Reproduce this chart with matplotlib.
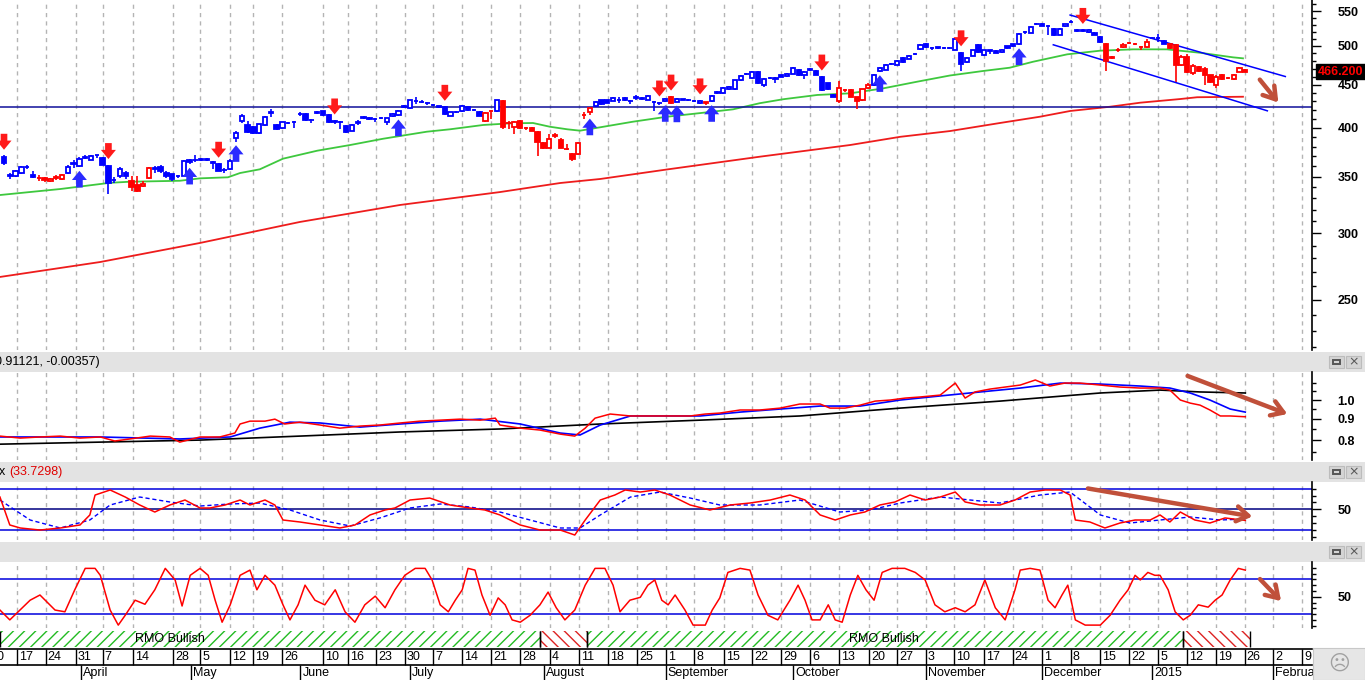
import numpy as np
import matplotlib
matplotlib.use('Agg')
import matplotlib.pyplot as plt
from matplotlib.patches import Rectangle
from matplotlib.ticker import FixedLocator, FixedFormatter, NullFormatter

plt.rcParams['font.family'] = ['Liberation Sans', 'DejaVu Sans']

# ---------------- data ----------------
opens = [369, 351, 351, 354, 359, 352, 348.5, 349, 346, 349, 348, 354, 362, 360, 368, 366.7, 371, 368.3, 360, 346.5,
         350.6, 354, 346, 342, 341, 349, 357.5, 359.5, 354, 352.4, 350.5, 350.6, 366.6, 366, 366.3, 367, 364, 362.7, 356, 357,
         389, 407, 403.3, 400.9, 394.4, 403, 416.5, 403, 399.5, 405, 406.5, 415, 415.2, 408.7, 416.5, 418.2, 414.1, 407.2, 406, 401.7,
         396.9, 405.5, 411.2, 410.9, 410.2, 410.8, 405.9, 412.6, 414.1, 423.8, 421.6, 430.2, 429, 427.9, 425.2, 424, 422.8, 413.3, 417.5, 418.3,
         423.4, 420.2, 417.8, 407.7, 418.5, 419, 430.4, 405, 401.3, 407, 399.8, 399.6, 395.4, 383.9, 378.5, 391.4, 386.4, 377.9, 372.7, 372,
         413.8, 417.8, 424.2, 431.5, 431.5, 430.4, 431.3, 433.5, 430.6, 434.3, 433.1, 431.5, 429.4, 427.5, 430.4, 434.5, 429.6, 431.8, 431.7, 430.6,
         427.4, 428.3, 430, 440.2, 439.4, 444.2, 444.2, 455.1, 463.3, 458.4, 465.6, 449.4, 458.2, 457.7, 461.3, 460.4, 463.5, 468, 462.4, 468.6,
         466.7, 459.6, 451.4, 437.8, 430, 443.2, 443.4, 434.7, 431.6, 446.2, 449, 466.7, 468.8, 475.9, 475.3, 484, 483.1, 489.3, 495.8, 503,
         497.3, 497.8, 497.3, 496.9, 494.9, 490.6, 478.3, 487, 501.6, 487.3, 493.8, 493.6, 492.3, 499.5, 502.3, 502.4, 518.7, 518.2, 530.7, 530.9,
         528.3, 523.6, 515.4, 528.1, 534, 521.2, 521.6, 519.6, 518.2, 512.6, 503, 484.3, 494.7, 498.5, 503.4, 503.2, 498.7, 498.4, 510.9, 511.3,
         507.4, 503, 501.6, 474.6, 485.7, 463.8, 472.6, 470.1, 461.3, 449, 461.3, 458.2, 456.3, 466.1, 467.8]
highs = [371, 354, 356, 360, 361, 355, 352, 350, 349, 352, 353, 361, 366, 369, 371, 371, 371.5, 369, 361.7, 350,
         359, 355, 350.2, 351, 346, 359, 360, 361, 355, 353, 352, 366, 367, 371.5, 368, 368, 365.7, 363, 358, 367,
         396, 415, 407, 402, 404, 413, 420.8, 404, 406, 406, 407.5, 417, 416, 410, 419, 419, 415, 408.5, 407, 402.5,
         404, 408.5, 413, 411.5, 411, 412, 411, 416, 420, 426, 432, 435.5, 431, 429, 427, 425, 424, 418, 419, 425.5,
         424, 421, 418.5, 417, 419.5, 432, 431, 407.6, 407, 408, 401, 400.5, 396, 385, 393, 394, 388.8, 382.8, 373.5, 385,
         417.4, 422.5, 430, 432, 432, 435, 434.7, 434.5, 431.5, 437, 434.5, 437.5, 430.4, 429, 434, 436, 434, 433, 432.5, 431.5,
         431.5, 429.5, 437.5, 442, 447, 448, 456, 461.5, 465, 467, 467, 458, 459.5, 460, 462, 464.5, 472.5, 469.5, 466.5, 471,
         468, 460.5, 452.5, 438.5, 454.5, 445, 444.5, 435.5, 445, 451.5, 463.5, 472, 475.5, 477.5, 481.5, 485, 487.5, 491, 503, 504,
         498, 499, 498.5, 498, 510.5, 492, 485, 495, 503, 495, 495, 494.5, 495.5, 500.5, 503, 518, 520.5, 528, 533, 532,
         529, 525, 525, 531.5, 536, 523, 523, 523.5, 519, 513.5, 504, 486.5, 497, 504.5, 505, 504, 500, 509, 513, 516.8,
         508.5, 504, 503, 488, 488.5, 476, 474, 471.5, 462.5, 462.5, 463, 459.5, 463.5, 471.5, 469.8]
lows = [361, 348, 350, 353, 357, 349, 346, 345, 345, 347, 347, 353, 358, 359, 367, 366, 368, 361, 333.6, 344,
        349, 347.6, 336.3, 336, 340, 348, 354, 354, 349, 346, 349, 350, 362, 364, 365, 365, 357.8, 355, 354, 356,
        385, 405, 393.8, 393, 393, 402, 411.5, 398, 399, 404, 399.5, 413, 407.5, 405, 415, 413, 405.5, 404, 398.7, 394,
        396, 403, 410, 408.5, 406, 409.5, 403.5, 412, 413, 422, 421, 426.5, 427.5, 426, 424, 422.5, 414, 412.5, 416, 417,
        419, 419, 412.5, 406, 409.6, 418, 399, 398.7, 393, 398.5, 398, 396, 369.8, 377, 378, 389, 378, 376, 365, 371,
        409.6, 414, 423, 426, 427.5, 430, 428.4, 430.5, 426.6, 431, 432, 431, 418.9, 426, 429.5, 426.5, 429, 431, 430.5, 429,
        426.5, 426, 429.5, 438.5, 438.5, 443, 443, 454, 461.5, 457, 451, 447, 456.5, 451.4, 459, 459.5, 463, 460.5, 457, 467,
        461.5, 442, 443, 434.5, 428.5, 441, 434.5, 420.8, 430.5, 445, 448, 466, 468, 474.5, 474.5, 477.5, 482.5, 488, 495, 497.5,
        495, 496.5, 495.5, 495.5, 494, 467, 477.5, 486, 490.5, 486.5, 489, 490, 491, 496, 498.5, 501.5, 517, 517.5, 529, 527.5,
        515.4, 514, 514.5, 527, 532.5, 519.5, 519.5, 518.5, 514.5, 504.5, 467, 482.5, 492, 497, 502, 501.5, 494, 497, 509.5, 506,
        502, 496, 451.4, 473.5, 465, 462.5, 466, 449, 451.5, 445.5, 456, 456.5, 455.5, 465.5, 465.2]
closes = [363, 352, 355, 359, 359.5, 350, 349, 347, 348, 349.5, 352, 359.5, 363, 367.6, 369, 370.6, 371.2, 361.7, 344, 347,
          357.8, 350.6, 340, 337, 343.5, 358.5, 358, 355, 350.6, 347.7, 351, 365, 364.4, 366.6, 366.8, 366.5, 363.5, 355.7, 356.5, 365.7,
          394, 413, 395.4, 393.8, 403.8, 412.2, 417, 398.7, 405.9, 405.5, 406.8, 415.5, 408.8, 408.3, 417.2, 414.1, 406.6, 406.8, 405.8, 395.7,
          403, 406, 411.7, 409.3, 409.8, 411, 410.3, 415.2, 418.9, 424.3, 431.2, 430.6, 429.4, 427.5, 425.6, 423.8, 415.2, 417.1, 418, 424.6,
          419.7, 419.9, 413.3, 416.3, 419, 431.2, 400.5, 405.4, 405.9, 399.6, 399.4, 396.8, 385.1, 378.8, 388.1, 391.8, 378.5, 377.5, 366.9, 383.9,
          414.3, 421.6, 429.2, 427, 428.4, 434, 431.7, 431.2, 430.2, 434.7, 433.5, 436.3, 429, 427.9, 433.2, 427.7, 433.2, 432.2, 431.3, 430.2,
          430.4, 428.7, 436.3, 440.6, 446.3, 447.1, 455.1, 460.5, 463.7, 466, 452.2, 457.2, 458.6, 457.3, 459.7, 463.5, 471, 461.3, 465.8, 469,
          462.5, 443, 444.2, 435.4, 446.2, 443.6, 435.4, 430.4, 444.2, 449, 462.5, 471, 474.4, 476.3, 480.5, 478.3, 486.6, 489.7, 501.6, 498.5,
          496.9, 498.2, 496.9, 497.3, 509.4, 476.5, 483.6, 494, 491.3, 494, 494.2, 491, 494.5, 497.3, 499.5, 516.8, 519.1, 526.9, 531.1, 528.1,
          527.9, 515.4, 523.6, 530.5, 534.4, 521.6, 521.2, 522.4, 515.4, 505.7, 479.5, 484.7, 495.1, 501.6, 503.8, 502.8, 498.3, 506, 511.3, 510.9,
          503, 497.1, 474.6, 484.5, 466.3, 473.9, 467.6, 462.5, 452.6, 459.7, 457.2, 458.6, 462.5, 470.4, 466.2]
red_segments = [(6, 10), (22, 25), (83, 84), (86, 101), (115, 115), (121, 121), (144, 149), (190, 197), (201, 214)]
sell_signals = [0, 18, 37, 57, 76, 113, 115, 120, 141, 165, 186]
buy_signals = [13, 32, 40, 68, 101, 114, 116, 122, 151, 175]
last_price = 466.2

ma50_x = [-0.7, 9.7, 18.3, 21.7, 30.3, 33.8, 38.6, 40.7, 44.1, 48.1, 54.0, 59.7, 65.3, 69.5, 72.9, 76.9, 82.6, 87.2, 91.2,
          94.1, 97.1, 99.3, 102.8, 108.4, 114.3, 120.0, 125.7, 130.3, 134.3, 140.2, 145.9, 151.6, 157.4, 163.1, 168.8,
          173.4, 177.4, 183.3, 189.0, 194.7, 200.5, 206.2, 211.9, 213.6]
ma50_y = [332.9, 338.4, 344.2, 345.2, 346.1, 348.4, 349.4, 353.5, 357.1, 367.6, 375.7, 381.6, 388.1, 392.3, 395.7, 398.3,
          403.0, 404.8, 405.2, 401.1, 398.3, 396.8, 400.5, 406.6, 412.2, 416.3, 420.6, 427.7, 432.3, 437.4, 439.4, 445.4,
          453.5, 461.3, 467.0, 471.2, 478.9, 488.7, 493.6, 495.4, 495.4, 490.8, 484.7, 483.4]
ma200_x = [-0.7, 16.6, 33.8, 51.0, 68.3, 85.5, 95.9, 102.8, 114.5, 130.3, 145.9, 154.5, 163.1, 171.7, 178.6, 183.8,
           190.7, 195.9, 202.8, 205.7, 213.6]
ma200_y = [266.2, 277.3, 292.1, 309.3, 324.0, 335.6, 344.0, 347.8, 357.1, 369.6, 381.6, 390.2, 396.4, 405.2, 412.2,
           418.7, 423.6, 428.3, 432.6, 434.7, 435.3]
support_level = 423.5
channel_upper_x, channel_upper_y = [183.8, 220.9], [544.0, 460.0]
channel_lower_x, channel_lower_y = [180.9, 217.8], [501.6, 418.9]

# relative strength panel
rs_red_x = [-0.7, 2.8, 6.2, 9.7, 13.1, 16.6, 19.1, 21.7, 25.2, 28.6, 30.3, 33.8, 37.2, 39.8, 40.7, 42.4, 45.0, 46.7, 48.4,
            51.0, 54.5, 57.9, 59.7, 61.4, 64.8, 68.3, 71.7, 75.2, 78.6, 82.1, 84.7, 85.5, 89.0, 92.4, 95.9, 98.4, 100.2,
            101.9, 104.5, 108.0, 111.4, 114.8, 118.3, 120.9, 123.4, 126.9, 130.3, 133.8, 137.2, 140.7, 142.4, 145.0,
            147.6, 150.2, 152.8, 155.4, 157.9, 161.4, 164.0, 165.7, 167.4, 170.0, 172.6, 175.2, 177.8, 180.3, 182.9,
            185.5, 189.0, 192.4, 195.9, 199.3, 201.0, 202.8, 204.5, 206.2, 207.9, 209.7, 211.4, 214.0]
rs_red = [0.818, 0.809, 0.814, 0.818, 0.809, 0.814, 0.796, 0.805, 0.818, 0.814, 0.791, 0.814, 0.814, 0.832, 0.875, 0.889,
          0.889, 0.899, 0.875, 0.884, 0.870, 0.855, 0.860, 0.865, 0.870, 0.880, 0.889, 0.894, 0.899, 0.894, 0.904, 0.870,
          0.855, 0.846, 0.827, 0.818, 0.855, 0.904, 0.925, 0.915, 0.915, 0.915, 0.915, 0.925, 0.930, 0.946, 0.946, 0.956,
          0.978, 0.978, 0.956, 0.956, 0.972, 0.994, 1.000, 1.011, 1.017, 1.028, 1.099, 1.011, 1.046, 1.063, 1.075, 1.087,
          1.118, 1.081, 1.099, 1.099, 1.087, 1.075, 1.069, 1.069, 1.057, 1.000, 0.983, 0.972, 0.946, 0.915, 0.915, 0.911]
rs_blue_x = [-0.7, 16.6, 30.3, 39.0, 44.1, 49.3, 54.5, 61.4, 68.3, 75.2, 82.1, 89.0, 95.9, 99.3, 102.8, 108.0, 113.1,
             120.0, 126.9, 133.8, 140.7, 147.6, 154.5, 161.4, 168.3, 175.2, 182.1, 189.0, 195.9, 201.0, 204.5, 207.9,
             211.4, 214.0]
rs_blue = [0.814, 0.814, 0.805, 0.814, 0.855, 0.884, 0.880, 0.860, 0.875, 0.889, 0.899, 0.875, 0.832, 0.823, 0.870, 0.915,
           0.915, 0.915, 0.935, 0.951, 0.967, 0.967, 1.000, 1.023, 1.046, 1.069, 1.099, 1.093, 1.081, 1.069, 1.040, 1.000,
           0.951, 0.935]
rs_black_x = [-0.7, 16.6, 33.8, 51.0, 68.3, 85.5, 102.8, 120.0, 137.2, 154.5, 171.7, 189.0, 199.3, 206.2, 214.0]
rs_black = [0.782, 0.791, 0.800, 0.818, 0.837, 0.851, 0.875, 0.894, 0.915, 0.956, 0.994, 1.040, 1.057, 1.046, 1.040]

# oscillator panel
osc_x = [-0.7, 1.0, 2.8, 6.2, 9.7, 13.1, 14.8, 15.7, 18.3, 20.9, 23.4, 26.0, 28.6, 31.2, 33.8, 35.5, 38.1, 40.7, 42.4,
         45.0, 46.7, 48.1, 51.0, 54.5, 57.9, 60.5, 63.1, 65.7, 67.4, 70.0, 73.4, 76.9, 80.3, 82.9, 85.5, 89.0, 92.4,
         95.9, 98.4, 100.2, 102.8, 105.3, 107.1, 109.7, 112.2, 114.8, 118.3, 121.7, 125.2, 128.6, 132.1, 135.5, 138.1,
         140.7, 143.3, 145.9, 148.4, 151.0, 153.6, 156.2, 158.8, 161.4, 164.0, 165.7, 168.3, 171.7, 174.3, 176.9, 179.5,
         182.1, 183.8, 184.7, 187.2, 189.8, 192.4, 195.0, 197.6, 199.3, 201.0, 202.8, 205.3, 207.9, 210.5, 214.0]
osc_red = [68.0, 27.0, 22.6, 19.6, 22.6, 27.0, 41.7, 70.9, 78.3, 68.0, 56.3, 46.0, 56.3, 63.6, 51.9, 51.9, 56.3, 63.6, 56.3,
           63.6, 56.3, 34.3, 31.4, 27.0, 22.6, 27.0, 41.7, 49.0, 51.9, 63.6, 66.5, 56.3, 51.9, 49.0, 41.7, 27.0, 19.6, 19.6,
           12.3, 34.3, 63.6, 70.9, 78.3, 75.3, 78.3, 70.9, 56.3, 49.0, 56.3, 59.2, 63.6, 70.9, 63.6, 41.7, 34.3, 41.7, 46.0,
           56.3, 60.7, 70.9, 63.6, 68.0, 75.3, 60.7, 56.3, 56.3, 63.6, 75.3, 78.3, 78.3, 70.9, 34.3, 31.4, 22.6, 29.9, 34.3,
           34.3, 41.7, 31.4, 46.0, 34.3, 29.9, 37.3, 33.7]
sig_x = [-0.7, 4.5, 9.7, 14.8, 18.3, 23.4, 28.6, 33.8, 39.0, 44.1, 49.3, 54.5, 59.7, 64.8, 70.0, 75.2, 80.3, 85.5, 90.7,
         95.9, 99.3, 102.8, 108.0, 113.1, 118.3, 123.4, 130.3, 137.2, 144.1, 149.3, 154.5, 161.4, 166.6, 171.7, 178.6,
         183.8, 189.0, 194.1, 199.3, 204.5, 209.7, 214.0]
sig_blue = [63.6, 34.3, 22.6, 34.3, 56.3, 68.0, 60.7, 54.8, 57.8, 59.2, 49.0, 34.3, 25.5, 37.3, 51.9, 57.8, 53.4, 46.0, 34.3,
            22.6, 22.6, 41.7, 68.0, 75.3, 66.5, 56.3, 56.3, 63.6, 46.0, 49.0, 59.2, 68.0, 63.6, 59.2, 70.9, 75.3, 41.7, 29.9,
            34.3, 38.7, 34.3, 35.8]
osc_last = 33.7298

# stochastic RSI panel
srsi_x = [-0.7, 1.0, 4.5, 6.2, 8.8, 10.5, 12.2, 14.0, 15.7, 16.6, 18.3, 19.7, 20.9, 22.6, 24.3, 26.0, 27.8, 29.5, 30.7, 32.1,
          33.8, 35.2, 36.4, 37.6, 39.0, 40.7, 42.4, 43.6, 45.0, 46.7, 48.1, 49.3, 50.7, 51.9, 53.6, 55.3, 57.1, 58.8, 60.5,
          62.2, 64.0, 65.7, 67.4, 69.1, 70.9, 72.6, 73.8, 75.2, 76.6, 77.8, 79.0, 80.0, 81.2, 82.4, 83.8, 85.2, 86.4, 87.6,
          89.0, 90.7, 92.4, 93.8, 95.2, 96.7, 98.4, 100.2, 101.9, 103.6, 105.0, 106.2, 107.9, 109.7, 111.0, 112.2, 113.4,
          114.5, 115.7, 117.4, 118.8, 120.9, 122.1, 123.4, 124.8, 126.9, 128.6, 130.0, 131.7, 133.4, 135.5, 136.9, 138.1,
          139.3, 140.7, 142.1, 143.3, 144.5, 145.9, 147.2, 148.6, 150.0, 151.4, 153.1, 155.3, 157.1, 158.8, 160.5, 162.2,
          164.0, 165.7, 167.4, 169.1, 170.9, 172.6, 174.3, 175.2, 176.9, 178.6, 180.0, 181.2, 182.4, 183.4, 184.7, 186.4,
          189.0, 190.7, 192.4, 193.8, 195.0, 195.9, 197.2, 198.4, 199.3, 200.7, 201.9, 203.3, 204.5, 205.9, 207.6, 208.8,
          210.0, 211.4, 212.8, 214.0]
srsi = [27, 10, 44, 53, 27, 24, 62, 99, 99, 87, 27, 1, 18, 44, 37, 62, 99, 79, 34, 87,
        99, 87, 44, 6, 36, 87, 96, 62, 87, 70, 36, 10, 36, 70, 44, 36, 62, 24, 6,
        36, 51, 31, 62, 87, 99, 99, 79, 36, 24, 44, 62, 99, 96, 53, 18, 48, 36, 10,
        6, 18, 36, 58, 31, 10, 27, 70, 99, 99, 70, 24, 44, 49, 70, 79, 44,
        36, 53, 27, 1, 1, 27, 48, 92, 99, 96, 53, 18, 10, 44, 70, 44,
        10, 10, 36, 10, 6, 53, 87, 62, 44, 92, 99, 99, 92, 79, 36, 24,
        31, 24, 36, 79, 31, 10, 62, 96, 99, 96, 44, 31, 53, 70, 10, 1,
        1, 18, 44, 62, 87, 79, 92, 87, 87, 62, 24, 10, 18, 36, 32, 44,
        53, 79, 99, 96]

rmo_segments = [(-0.7, 92.4, 'bull'), (92.4, 100.5, 'bear'), (100.5, 203.3, 'bull'), (203.3, 214.8, 'bear')]
rmo_labels = [(28.6, 'RMO Bullish'), (151.7, 'RMO Bullish')]

week_pos = [-2.8, 2.2, 7.2, 12.4, 17.0, 22.2, 29.1, 33.8, 39.0, 43.0, 47.9, 55.0, 59.3, 64.1, 69.1, 74.0, 79.0, 84.0,
            89.0, 94.1, 99.1, 104.2, 109.1, 114.1, 119.0, 124.1, 129.0, 134.0, 139.0, 144.0, 149.1, 154.0, 158.9, 163.8,
            168.9, 173.9, 178.9, 183.9, 189.0, 194.0, 199.0, 203.9, 208.9, 213.9, 218.8, 223.8]
week_labels = ['10', '17', '24', '31', '7', '14', '28', '5', '12', '19', '26', '10', '16', '23', '30', '7', '14', '21',
               '28', '4', '11', '18', '25', '1', '8', '15', '22', '29', '6', '13', '20', '27', '3', '10', '17', '24',
               '1', '8', '15', '22', '5', '12', '19', '26', '2', '9']
month_pos = [13.2, 32.2, 51.1, 70.0, 93.1, 114.1, 136.0, 158.9, 178.9, 197.9, 218.7]
month_labels = ['April', 'May', 'June', 'July', 'August', 'September', 'October', 'November', 'December', '2015',
                'February']

# ---------------- figure ----------------
W, H = 1365, 680
fig = plt.figure(figsize=(W / 100, H / 100), dpi=100)
fig.patch.set_facecolor('white')
XL = (-0.69, 225.5)
BLUE, RED = '#0000ff', '#ff0000'
GRID = '#b4b4b4'
ANN = '#c0503a'


def px_axes(x0, y0, x1, y1):
    return fig.add_axes([x0 / W, 1 - y1 / H, (x1 - x0) / W, (y1 - y0) / H])


def style_panel(a, majors, labels, minors, ylim, log=False):
    if log:
        a.set_yscale('log')
    a.set_xlim(*XL)
    a.set_ylim(*ylim)
    for s in ['left', 'top', 'bottom']:
        a.spines[s].set_visible(False)
    a.spines['right'].set_linewidth(1.2)
    a.yaxis.tick_right()
    a.yaxis.set_major_locator(FixedLocator(majors))
    a.yaxis.set_major_formatter(FixedFormatter(labels))
    a.yaxis.set_minor_locator(FixedLocator(minors))
    a.yaxis.set_minor_formatter(NullFormatter())
    a.tick_params(axis='y', which='major', length=6.5, width=1, pad=12, labelsize=9)
    a.tick_params(axis='y', which='minor', length=3.2, width=1)
    a.set_xticks([])
    for lab in a.get_yticklabels():
        lab.set_fontweight('bold')
    for t in week_pos[1:]:
        a.axvline(t, color=GRID, ls=(0, (3, 3)), lw=1, zorder=0)


# ---- main price panel ----
ax = px_axes(0, 0, 1312, 350)
pt = [250, 300, 350, 400, 450, 500, 550]
style_panel(ax, pt, [str(v) for v in pt], [v for v in range(220, 561, 10) if v not in pt], (218.1, 566.8), log=True)

o = np.array(opens); h = np.array(highs); l = np.array(lows); c = np.array(closes)
n = len(c)
idx = np.arange(n)
is_red = np.zeros(n, bool)
for s, e in red_segments:
    is_red[s:e + 1] = True
cols = np.where(is_red, RED, BLUE)
faces = [cols[i] if c[i] < o[i] else 'white' for i in range(n)]
ax.vlines(idx, l, h, colors=cols, lw=1.2, zorder=2)
ax.bar(idx, np.abs(c - o), bottom=np.minimum(o, c), width=0.74, color=faces, edgecolor=cols, linewidth=1.3, zorder=3)

ax.plot(ma50_x, ma50_y, color='#3ec83e', lw=1.3, zorder=1)
ax.plot(ma200_x, ma200_y, color='#ee1c1c', lw=1.3, zorder=1)
ax.axhline(support_level, color='#10109a', lw=1.1, zorder=1)
ax.plot(channel_upper_x, channel_upper_y, color=BLUE, lw=1.1, zorder=2)
ax.plot(channel_lower_x, channel_lower_y, color=BLUE, lw=1.1, zorder=2)

for i in sell_signals:
    ax.annotate('', xy=(i, h[i]), xytext=(0, 15.5), textcoords='offset points',
                arrowprops=dict(arrowstyle='simple,head_length=0.55,head_width=0.9,tail_width=0.4',
                                fc='#ff1a1a', ec='none', shrinkA=0, shrinkB=4, mutation_scale=12), zorder=5)
for i in buy_signals:
    ax.annotate('', xy=(i, l[i]), xytext=(0, -14.5), textcoords='offset points',
                arrowprops=dict(arrowstyle='simple,head_length=0.55,head_width=0.9,tail_width=0.4',
                                fc='#2a2aff', ec='none', shrinkA=0, shrinkB=2.5, mutation_scale=12), zorder=5)

ax.annotate(f'{last_price:.3f}', xy=(1, last_price), xycoords=('axes fraction', 'data'), xytext=(4, 0),
            textcoords='offset points', ha='left', va='center', color=RED, fontsize=9, fontweight='bold',
            bbox=dict(boxstyle='square,pad=0.15', fc='black', ec='black'), annotation_clip=False, zorder=6)

ax.annotate('', xy=(220.0, 425.9), xytext=(216.2, 458.8),
            arrowprops=dict(arrowstyle='->,head_length=0.7,head_width=0.45', color=ANN, lw=3.2, mutation_scale=12),
            annotation_clip=False)

# ---- header bars ----
def header(y0, y1):
    hx = px_axes(0, y0, W, y1)
    hx.set_xlim(0, W)
    hx.set_ylim(y1, y0)
    hx.set_xticks([]); hx.set_yticks([])
    for s in hx.spines.values():
        s.set_visible(False)
    hx.set_facecolor('#e3e3e3')
    hx.add_patch(Rectangle((1329, y0 + 4), 15, 12, fc='#d4d4d4', ec='#bcbcbc', lw=0.8))
    hx.add_patch(Rectangle((1333, y0 + 8), 7, 4, fc='none', ec='#555555', lw=1.4))
    hx.add_patch(Rectangle((1346, y0 + 4), 15, 12, fc='#d4d4d4', ec='#bcbcbc', lw=0.8))
    hx.text(1353.5, y0 + 10, '×', ha='center', va='center', fontsize=9, color='#555555', family='DejaVu Sans')
    return hx


h2 = header(352, 372)
h2.text(-5, 362, '0.91121, -0.00357)', ha='left', va='center', fontsize=9, color='black')
h3 = header(462, 482)
h3.text(-1, 472, 'x', ha='left', va='center', fontsize=9, color='black')
h3.text(9, 472, f'({osc_last})', ha='left', va='center', fontsize=9, color='#e00000')
h4 = header(542, 562)

# ---- relative strength panel ----
a2 = px_axes(0, 372, 1312, 460)
style_panel(a2, [0.8, 0.9, 1.0], ['0.8', '0.9', '1.0'], [0.75, 0.85, 0.95, 1.05, 1.1], (0.716, 1.169), log=True)
a2.plot(rs_black_x, rs_black, color='black', lw=1.2)
a2.plot(rs_blue_x, rs_blue, color=BLUE, lw=1.2)
a2.plot(rs_red_x, rs_red, color=RED, lw=1.1)
a2.annotate('', xy=(221.7, 0.920), xytext=(203.6, 1.150),
            arrowprops=dict(arrowstyle='->,head_length=0.7,head_width=0.45', color=ANN, lw=3.2, mutation_scale=12),
            annotation_clip=False)

# ---- oscillator panel ----
a3 = px_axes(0, 482, 1312, 540)
style_panel(a3, [50], ['50'], [10, 20, 30, 40, 60, 70, 80], (5, 90))
for lvl in [20, 80]:
    a3.axhline(lvl, color='#0000dd', lw=1.1, zorder=1)
a3.axhline(50, color='#000080', lw=1.1, zorder=1)
a3.plot(sig_x, sig_blue, color=BLUE, lw=1, ls=(0, (3, 2)))
a3.plot(osc_x, osc_red, color=RED, lw=1.1)
a3.annotate('', xy=(215.7, 38.7), xytext=(186.4, 81.2),
            arrowprops=dict(arrowstyle='->,head_length=0.7,head_width=0.45', color=ANN, lw=3.2, mutation_scale=12),
            annotation_clip=False)

# ---- stochastic RSI panel ----
a4 = px_axes(0, 562, 1312, 628)
style_panel(a4, [50], ['50'], [0, 10, 20, 30, 40, 60, 70, 80, 90, 100], (-4, 110))
for lvl in [20, 80]:
    a4.axhline(lvl, color='#0000dd', lw=1.1, zorder=1)
a4.plot(srsi_x, srsi, color=RED, lw=1.1)
a4.annotate('', xy=(220.5, 39), xytext=(216.2, 84),
            arrowprops=dict(arrowstyle='->,head_length=0.7,head_width=0.45', color=ANN, lw=3.2, mutation_scale=12),
            annotation_clip=False)

# ---- RMO strip ----
ar = px_axes(0, 630, 1312, 648)
ar.set_xlim(*XL); ar.set_ylim(0, 1); ar.axis('off')
for s, e, kind in rmo_segments:
    col = '#22bb22' if kind == 'bull' else '#dd2222'
    hat = '///' if kind == 'bull' else '\\\\\\'
    ar.add_patch(Rectangle((s, 0.04), e - s, 0.92, fc='white', ec=col, hatch=hat, lw=0))
    ar.vlines([s, e], 0.04, 0.96, color='black', lw=1)
for x, t in rmo_labels:
    ar.text(x, 0.5, t, ha='center', va='center', fontsize=9, color='black')

# ---- date axis ----
ad = px_axes(0, 648, 1312, 680)
ad.set_xlim(*XL); ad.set_ylim(32, 0); ad.axis('off')
ad.plot(XL, [0.5, 0.5], color='black', lw=1.2, clip_on=False)
ad.plot(XL, [17, 17], color='black', lw=1.2, clip_on=False)
ad.vlines(week_pos, 0.5, 17, color='black', lw=1, clip_on=False)
for x, t in zip(week_pos, week_labels):
    ad.text(x + 0.35, 9, t, ha='left', va='center', fontsize=9, color='black', clip_on=False)
ad.vlines(month_pos, 17, 32, color='black', lw=1, clip_on=False)
for x, t in zip(month_pos, month_labels):
    ad.text(x + 0.35, 24.8, t, ha='left', va='center', fontsize=9, color='black', clip_on=False)

# ---- corner button ----
cb = px_axes(1313, 648, W, 680)
cb.set_xticks([]); cb.set_yticks([])
cb.set_facecolor('#e6e6e6')
for s in cb.spines.values():
    s.set_color('#c8c8c8')
cb.text(0.5, 0.5, '☹', ha='center', va='center', fontsize=15, color='#a0a0a0', family='DejaVu Sans',
        transform=cb.transAxes)

fig.savefig('out.png', dpi=100, facecolor='white')
